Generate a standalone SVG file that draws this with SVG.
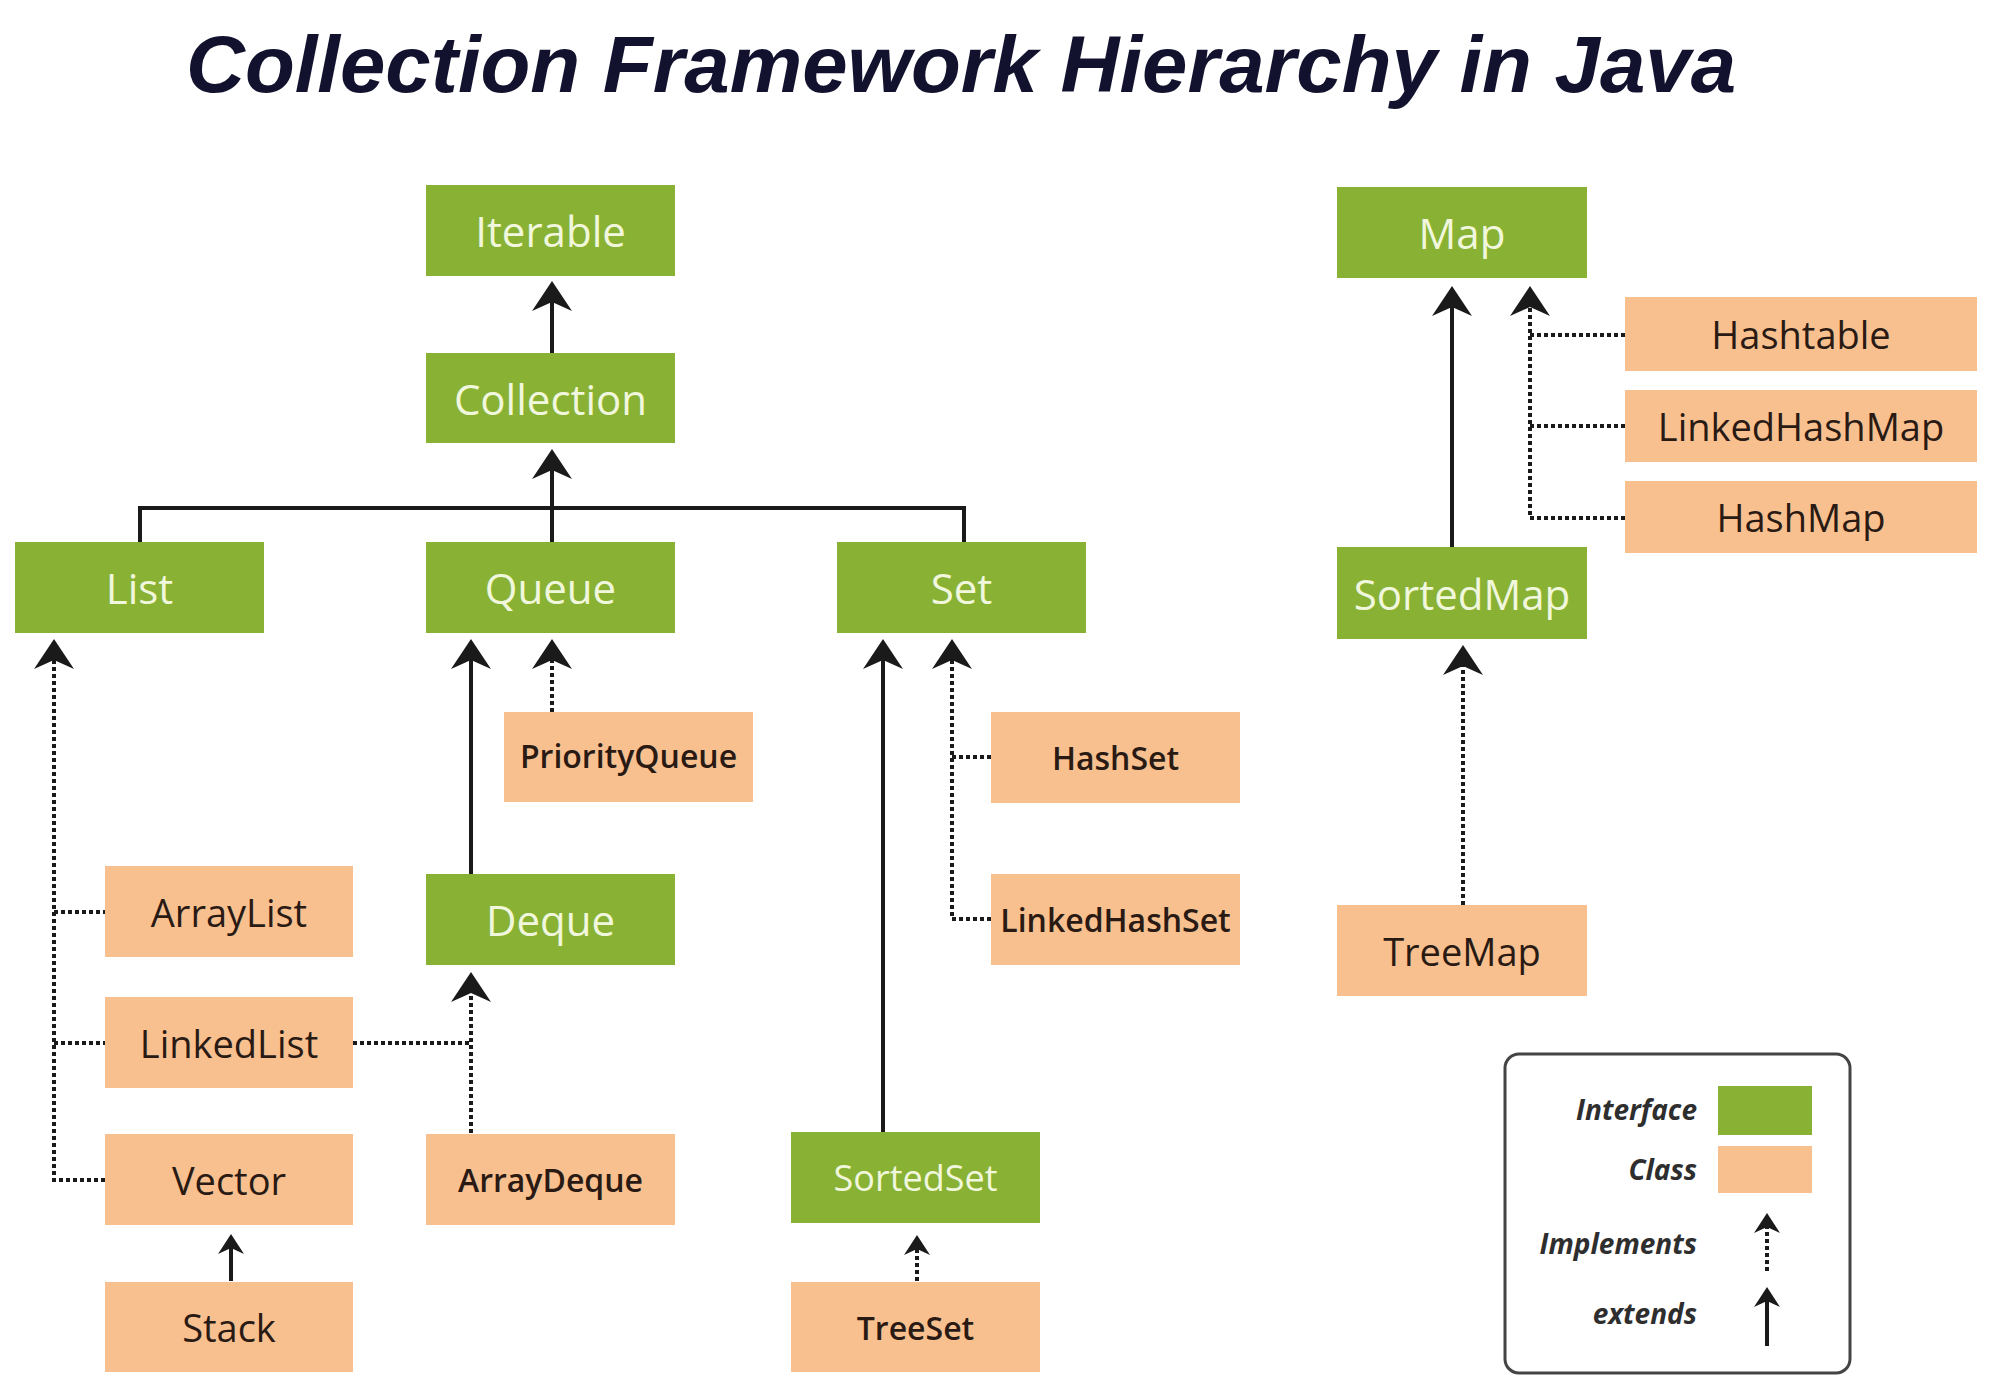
<svg xmlns="http://www.w3.org/2000/svg" width="2000" height="1398" viewBox="0 0 2000 1398">
<defs>
<style>
.i rect{fill:#89b234}
.i text{fill:#f1f7dc;font-family:"Open Sans","Noto Sans",sans-serif;font-size:42px;font-weight:500;text-anchor:middle;dominant-baseline:central}
.c rect{fill:#f9c08f}
.c text{fill:#2a1a14;font-family:"Open Sans","Noto Sans",sans-serif;font-size:38px;font-weight:500;text-anchor:middle;dominant-baseline:central}
.c text.s{font-size:32px;font-weight:600}
.sol{fill:none;stroke:#1a1a1a;stroke-width:4}
.dot{fill:none;stroke:#1a1a1a;stroke-width:4;stroke-dasharray:4 3}
.lg{fill:#2e2e2e;font-family:"Open Sans","Noto Sans",sans-serif;font-size:28px;font-style:italic;font-weight:700;text-anchor:end}
</style>
<marker id="ah" markerUnits="userSpaceOnUse" viewBox="0 0 30 40" markerWidth="30" markerHeight="40" refX="9" refY="20" orient="auto">
<path d="M0,0 L30,20 L0,40 L9,20 Z" fill="#1a1a1a"/>
</marker>
<marker id="ahs" markerUnits="userSpaceOnUse" viewBox="0 0 20 26" markerWidth="20" markerHeight="26" refX="6" refY="13" orient="auto">
<path d="M0,0 L20,13 L0,26 L6,13 Z" fill="#1a1a1a"/>
</marker>
</defs>
<rect width="2000" height="1398" fill="#ffffff"/>
<text x="186" y="92" font-family="'Liberation Sans',Arial,sans-serif" font-size="80" font-weight="700" font-style="italic" fill="#12122e" textLength="1550" lengthAdjust="spacingAndGlyphs">Collection Framework Hierarchy in Java</text>

<g id="connectors">
<path class="sol" d="M552,353 V302" marker-end="url(#ah)"/>
<path class="sol" d="M140,542 V508 H964 V542"/>
<path class="sol" d="M552,542 V470" marker-end="url(#ah)"/>
<path class="dot" d="M105,1180 H54 V660" marker-end="url(#ah)"/>
<path class="dot" d="M54,912 H105 M54,1043 H105"/>
<path class="sol" d="M471,874 V660" marker-end="url(#ah)"/>
<path class="dot" d="M552,712 V660" marker-end="url(#ah)"/>
<path class="dot" d="M471,1133 V993" marker-end="url(#ah)"/>
<path class="dot" d="M353,1043 H471"/>
<path class="sol" d="M231,1281 V1248" marker-end="url(#ahs)"/>
<path class="sol" d="M883,1132 V660" marker-end="url(#ah)"/>
<path class="dot" d="M991,919 H952 V660" marker-end="url(#ah)"/>
<path class="dot" d="M952,757 H991"/>
<path class="dot" d="M917,1281 V1249" marker-end="url(#ahs)"/>
<path class="sol" d="M1452,547 V307" marker-end="url(#ah)"/>
<path class="dot" d="M1625,518 H1530 V307" marker-end="url(#ah)"/>
<path class="dot" d="M1530,335 H1625 M1530,426 H1625"/>
<path class="dot" d="M1463,905 V666" marker-end="url(#ah)"/>
</g>

<g id="Iterable" class="i"><rect x="426" y="185" width="249" height="91"/><text x="550.5" y="230.5">Iterable</text></g>
<g id="Collection" class="i"><rect x="426" y="353" width="249" height="90"/><text x="550.5" y="398">Collection</text></g>
<g id="List" class="i"><rect x="15" y="542" width="249" height="91"/><text x="139.5" y="587.5">List</text></g>
<g id="Queue" class="i"><rect x="426" y="542" width="249" height="91"/><text x="550.5" y="587.5">Queue</text></g>
<g id="Set" class="i"><rect x="837" y="542" width="249" height="91"/><text x="961.5" y="587.5">Set</text></g>
<g id="Map" class="i"><rect x="1337" y="187" width="250" height="91"/><text x="1462" y="232.5">Map</text></g>
<g id="SortedMap" class="i"><rect x="1337" y="547" width="250" height="92"/><text x="1462" y="593">SortedMap</text></g>
<g id="Deque" class="i"><rect x="426" y="874" width="249" height="91"/><text x="550.5" y="919.5">Deque</text></g>
<g id="SortedSet" class="i"><rect x="791" y="1132" width="249" height="91"/><text x="915.5" y="1177.5" style="font-size:36px">SortedSet</text></g>

<g id="Hashtable" class="c"><rect x="1625" y="297" width="352" height="74"/><text x="1801" y="334">Hashtable</text></g>
<g id="LinkedHashMap" class="c"><rect x="1625" y="390" width="352" height="72"/><text x="1801" y="426">LinkedHashMap</text></g>
<g id="HashMap" class="c"><rect x="1625" y="481" width="352" height="72"/><text x="1801" y="517">HashMap</text></g>
<g id="PriorityQueue" class="c"><rect x="504" y="712" width="249" height="90"/><text class="s" x="628.5" y="755">PriorityQueue</text></g>
<g id="HashSet" class="c"><rect x="991" y="712" width="249" height="91"/><text class="s" x="1115.5" y="757.5">HashSet</text></g>
<g id="LinkedHashSet" class="c"><rect x="991" y="874" width="249" height="91"/><text class="s" x="1115.5" y="919.5">LinkedHashSet</text></g>
<g id="ArrayList" class="c"><rect x="105" y="866" width="248" height="91"/><text x="229" y="911.5">ArrayList</text></g>
<g id="LinkedList" class="c"><rect x="105" y="997" width="248" height="91"/><text x="229" y="1042.5">LinkedList</text></g>
<g id="Vector" class="c"><rect x="105" y="1134" width="248" height="91"/><text x="229" y="1179.5">Vector</text></g>
<g id="ArrayDeque" class="c"><rect x="426" y="1134" width="249" height="91"/><text class="s" x="550.5" y="1179.5">ArrayDeque</text></g>
<g id="Stack" class="c"><rect x="105" y="1282" width="248" height="90"/><text x="229" y="1327">Stack</text></g>
<g id="TreeSet" class="c"><rect x="791" y="1282" width="249" height="90"/><text class="s" x="915.5" y="1327">TreeSet</text></g>
<g id="TreeMap" class="c"><rect x="1337" y="905" width="250" height="91"/><text x="1462" y="950.5">TreeMap</text></g>

<g id="legend">
<rect x="1505" y="1054" width="345" height="319" rx="14" fill="#ffffff" stroke="#444444" stroke-width="3"/>
<text class="lg" x="1697" y="1120">Interface</text>
<text class="lg" x="1697" y="1180">Class</text>
<text class="lg" x="1697" y="1254">Implements</text>
<text class="lg" x="1697" y="1324">extends</text>
<rect x="1718" y="1086" width="94" height="49" fill="#89b234"/>
<rect x="1718" y="1146" width="94" height="47" fill="#f9c08f"/>
<path class="dot" d="M1767,1271 V1227" marker-end="url(#ahs)"/>
<path class="sol" d="M1767,1346 V1301" marker-end="url(#ahs)"/>
</g>
</svg>
